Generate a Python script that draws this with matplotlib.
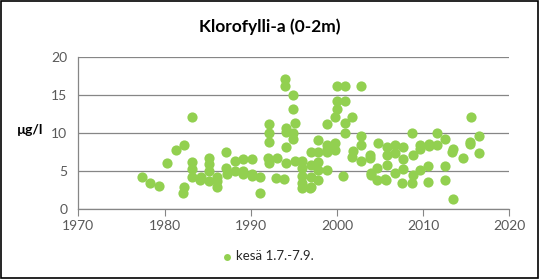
import matplotlib
matplotlib.use("Agg")
import matplotlib.pyplot as plt
from matplotlib.patches import Rectangle

plt.rcParams['font.family'] = ['Lato', 'DejaVu Sans']

years = [1977.4, 1978.3, 1979.4, 1980.3, 1981.3, 1982.3, 1982.3, 1982.1,
         1983.2, 1983.2, 1983.2, 1983.2, 1984.1, 1984.2,
         1985.2, 1985.2, 1985.2, 1985.2, 1986.1, 1986.1, 1986.1,
         1987.1, 1987.1, 1987.2, 1988.2, 1988.2, 1989.1, 1989.1, 1989.1,
         1990.1, 1990.1, 1990.1, 1991.1, 1991.1,
         1992.1, 1992.1, 1992.1, 1992.0, 1992.1, 1993.1, 1992.9, 1993.9,
         1994.0, 1994.0, 1994.1, 1994.1, 1994.1, 1994.1,
         1994.9, 1994.9, 1995.1, 1994.9, 1994.9, 1995.1,
         1996.0, 1996.0, 1996.0, 1996.0, 1996.0,
         1997.0, 1997.0, 1997.0, 1997.0, 1996.9,
         1997.8, 1997.8, 1997.8, 1997.8, 1997.8,
         1998.8, 1998.8, 1998.8, 1998.8, 1998.9,
         1999.8, 1999.8, 1999.8,
         2000.0, 2000.0, 2000.0,
         2000.9, 2000.9, 2000.9, 2000.9, 2000.7,
         2001.8, 2001.9, 2001.8,
         2002.8, 2002.8, 2002.8, 2002.8,
         2003.8, 2003.8, 2003.9, 2003.9,
         2004.8, 2004.7, 2004.7,
         2005.8, 2005.8, 2005.8, 2005.7, 2005.6,
         2006.7, 2006.7, 2006.7,
         2007.7, 2007.7, 2007.7, 2007.6,
         2008.7, 2008.8, 2008.8, 2008.7,
         2009.6, 2009.6, 2009.6,
         2010.7, 2010.7, 2010.6, 2010.6,
         2011.6, 2011.6,
         2012.5, 2012.5, 2012.5,
         2013.5, 2013.4, 2013.5,
         2014.6,
         2015.6, 2015.4, 2015.4,
         2016.5, 2016.5]

values = [4.2, 3.4, 3.1, 6.1, 7.8, 8.4, 2.9, 2.1,
          12.1, 6.2, 5.3, 4.3, 3.9, 4.2,
          6.7, 6.0, 5.0, 3.7, 4.3, 3.0, 3.7,
          7.5, 5.4, 4.7, 6.35, 5.0, 6.6, 4.6, 5.0,
          6.6, 4.4, 4.7, 4.3, 2.1,
          11.2, 10.1, 8.85, 6.7, 6.05, 6.8, 4.1, 3.95,
          17.1, 16.2, 10.7, 10.2, 8.2, 6.05,
          15.1, 13.2, 11.3, 10.0, 9.2, 6.3,
          6.4, 5.4, 4.4, 3.5, 2.75,
          7.6, 5.8, 4.3, 3.0, 2.75,
          9.1, 7.6, 6.25, 5.2, 3.85,
          11.2, 8.5, 8.0, 7.5, 5.2,
          12.2, 8.7, 7.8,
          16.2, 14.3, 13.2,
          16.2, 14.2, 11.3, 10.1, 4.4,
          12.1, 7.7, 6.9,
          16.2, 9.7, 8.4, 6.4,
          7.1, 6.7, 4.8, 4.5,
          8.7, 5.5, 3.85,
          8.2, 7.2, 5.8, 3.85, 4.0,
          8.5, 7.4, 4.8,
          8.2, 6.6, 5.3, 3.5,
          10.1, 7.1, 4.5, 3.4,
          8.5, 8.0, 5.2,
          8.6, 8.3, 5.7, 3.6,
          10.1, 8.5,
          9.2, 5.7, 3.9,
          8.0, 7.6, 1.3,
          6.7,
          12.1, 8.9, 8.6,
          9.6, 7.4]

series_label = "kesä 1.7.-7.9."
title = "Klorofylli-a (0-2m)"
ylabel = "µg/l"
xticks = [1970, 1980, 1990, 2000, 2010, 2020]
yticks = [0, 5, 10, 15, 20]

green = '#92D050'
gridc = '#868686'
tickc = '#595959'

fig = plt.figure(figsize=(5.39, 2.79), dpi=100)
ax = fig.add_axes([0.1453, 0.2498, 0.7997, 0.5448])
ax.scatter(years, values, s=54, color=green, linewidths=0, zorder=3, label=series_label)
ax.set_xlim(1970, 2020)
ax.set_ylim(0, 20)
ax.set_xticks(xticks)
ax.set_yticks(yticks)
ax.grid(axis='y', color=gridc, linewidth=0.9)
ax.set_axisbelow(True)
for s in ['top', 'right']:
    ax.spines[s].set_visible(False)
for s in ['left', 'bottom']:
    ax.spines[s].set_color(gridc)
    ax.spines[s].set_linewidth(0.9)
ax.tick_params(axis='x', direction='out', length=5, color=gridc, labelsize=10, labelcolor=tickc, pad=3)
ax.tick_params(axis='y', length=0, labelsize=10, labelcolor=tickc, pad=8)

fig.text(0.5, 0.905, title, ha='center', va='center', fontsize=12.5, fontweight='bold', color='black')
fig.text(0.055, 0.535, ylabel, ha='center', va='center', fontsize=10, fontweight='bold', color='black')

leg = fig.legend(loc='center', bbox_to_anchor=(0.49, 0.082), frameon=False, fontsize=9.5,
                 handletextpad=-0.3, markerscale=0.68, borderaxespad=0)
for t in leg.get_texts():
    t.set_color('#262626')

fig.patches.append(Rectangle((0.001, 0.002), 0.997, 0.995, transform=fig.transFigure,
                             fill=False, edgecolor='black', linewidth=1.2))

fig.savefig('out.png', dpi=100)
